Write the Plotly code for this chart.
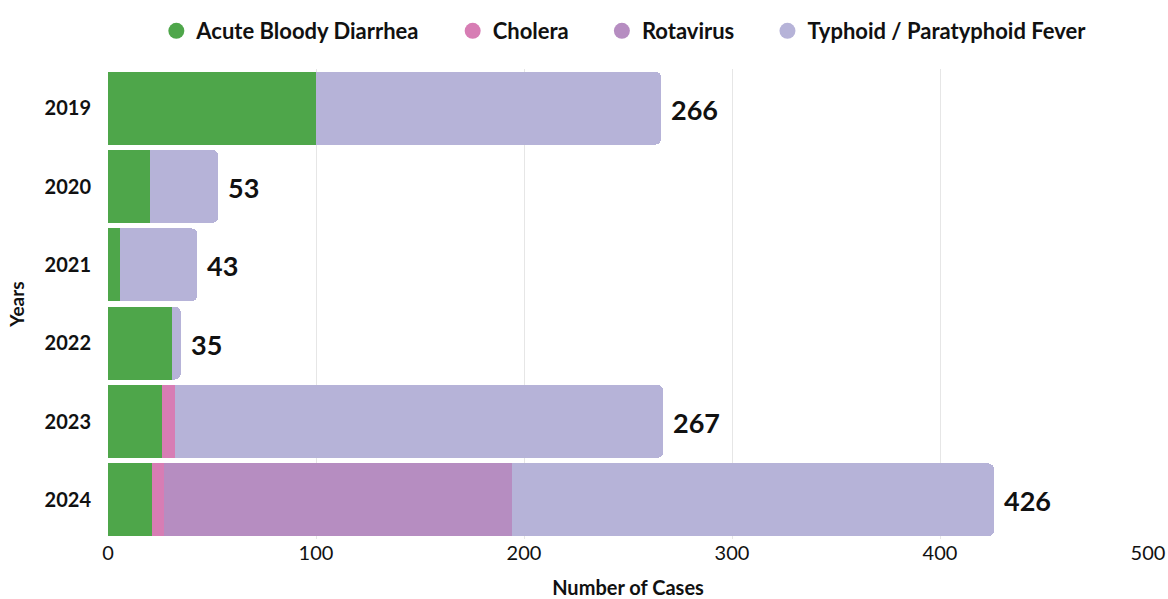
import plotly.graph_objects as go

years = ["2019", "2020", "2021", "2022", "2023", "2024"]
acute_bloody_diarrhea = [100, 20, 6, 31, 26, 21]
cholera = [0, 0, 0, 0, 6, 6]
rotavirus = [0, 0, 0, 0, 0, 167]
typhoid = [166, 33, 37, 4, 235, 232]
totals = [266, 53, 43, 35, 267, 426]

series = [
    ("Acute Bloody Diarrhea", acute_bloody_diarrhea, "#4ea64a"),
    ("Cholera", cholera, "#d77db4"),
    ("Rotavirus", rotavirus, "#b68dc1"),
    ("Typhoid / Paratyphoid Fever", typhoid, "#b6b3d8"),
]

FONT = "Lato, Open Sans, sans-serif"
cat_order = years[::-1]  # bottom to top

fig = go.Figure()
for name, vals, color in series:
    fig.add_trace(go.Bar(
        y=years, x=vals, orientation="h", name=name,
        marker=dict(color=color, line=dict(width=0)),
        showlegend=False, hoverinfo="x+name",
    ))
for i, (name, vals, color) in enumerate(series):
    # circle marker for the legend, on a hidden overlay axis
    pad = "\u00a0" * 5 if i < len(series) - 1 else ""
    fig.add_trace(go.Scatter(
        x=[None], y=[None], mode="markers", name=f"<b>{name}</b>{pad}",
        marker=dict(symbol="circle", size=21, color=color),
        xaxis="x2", yaxis="y2",
    ))

# totals at the end of each stack (category index, since years look numeric)
for yr, tot in zip(years, totals):
    fig.add_annotation(
        x=tot, y=cat_order.index(yr), text=f"<b>{tot}</b>", showarrow=False,
        xanchor="left", xshift=8, yshift=-1,
        font=dict(family=FONT, size=27, color="#111111"),
    )

fig.update_layout(
    barmode="stack",
    bargap=0.07,
    barcornerradius=6,
    width=1168, height=599,
    margin=dict(l=108, r=20, t=69, b=60),
    paper_bgcolor="white", plot_bgcolor="white",
    font=dict(family=FONT, size=16, color="#111111"),
    legend=dict(
        orientation="h", x=0.496, xanchor="center",
        yref="container", y=1 - 31 / 599, yanchor="middle",
        traceorder="normal",
        font=dict(family=FONT, size=22, color="#111111"),
        itemsizing="trace", itemwidth=30,
    ),
    xaxis=dict(
        range=[0, 500], tickvals=[0, 100, 200, 300, 400, 500],
        showgrid=True, gridcolor="#e6e6e6", gridwidth=1,
        zeroline=False, showline=False, automargin=False,
        tickprefix="<b>", ticksuffix="</b>",
        tickfont=dict(family=FONT, size=20, color="#111111"),
        title=dict(text="<b>Number of Cases</b>", standoff=20,
                   font=dict(family=FONT, size=20, color="#111111")),
    ),
    yaxis=dict(
        type="category",
        categoryorder="array", categoryarray=cat_order,
        showgrid=False, zeroline=False, showline=False, automargin=False,
        ticks="", ticklabelstandoff=16,
        tickprefix="<b>", ticksuffix="</b>",
        tickfont=dict(family=FONT, size=20, color="#111111"),
        title=dict(text="<b>Years</b>", standoff=14,
                   font=dict(family=FONT, size=19, color="#111111")),
    ),
    xaxis2=dict(overlaying="x", visible=False),
    yaxis2=dict(overlaying="y", visible=False),
)

fig.write_html("out.html", config=dict(displayModeBar=False),
               post_script="document.body.style.margin='0';")
